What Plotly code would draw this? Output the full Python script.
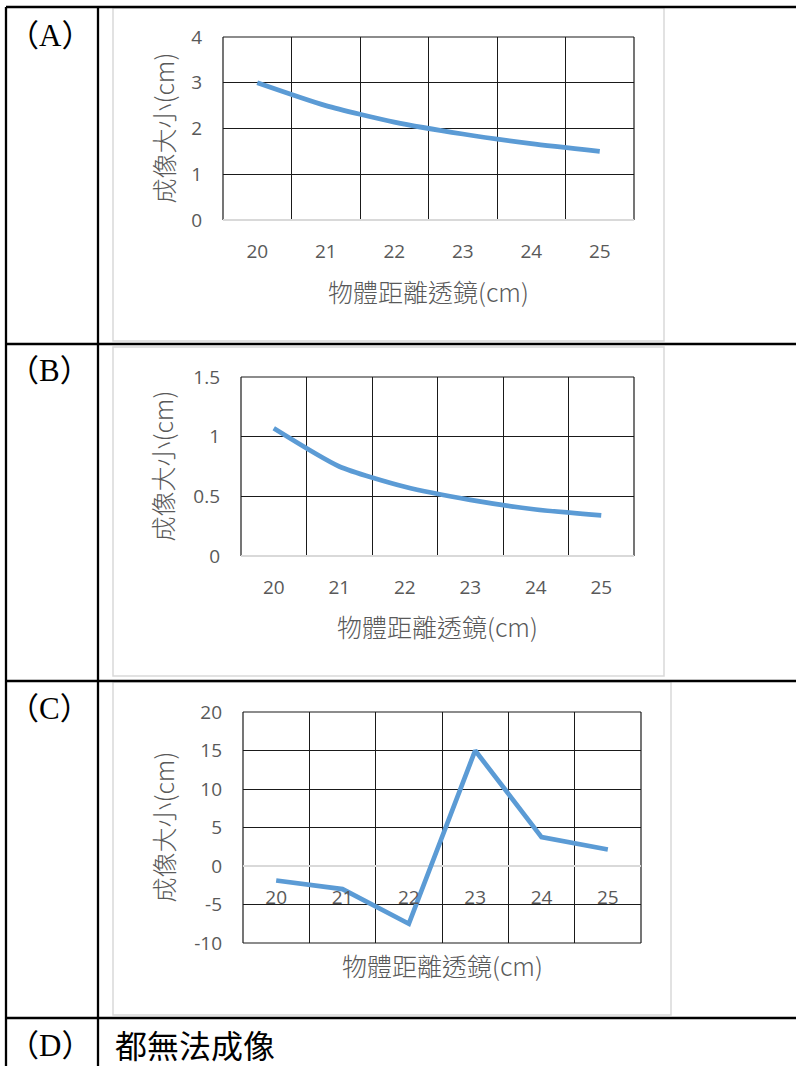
import plotly.graph_objects as go

W, H = 796, 1066

# ---- data ----
distance = [20, 21, 22, 23, 24, 25]
size_a = [3.0, 2.5, 2.14, 1.88, 1.67, 1.5]
size_b = [1.07, 0.75, 0.58, 0.47, 0.39, 0.34]
size_c = [-1.88, -3.0, -7.5, 15.0, 3.75, 2.14]
yticks_a = [0, 1, 2, 3, 4]
yticks_b = [0, 0.5, 1, 1.5]
yticks_c = [-10, -5, 0, 5, 10, 15, 20]
row_labels = ["（A）", "（B）", "（C）", "（D）"]
option_d_text = "都無法成像"
y_title = "成像大小(cm)"
x_title = "物體距離透鏡(cm)"


def px(x):
    return x / W


def py(y):
    return 1 - y / H


LINE_BLUE = "#5B9BD5"
GRID = "#1A1A1A"
AXIS_GRAY = "#D9D9D9"
TXT_GRAY = "#595959"
TICK_FONT = dict(family="Open Sans, Noto Sans CJK TC", size=19, color=TXT_GRAY)
TITLE_FONT = dict(family="Noto Sans CJK TC", size=25, color=TXT_GRAY, weight=300)

fig = go.Figure()

# plot areas (pixel boxes): left, right, top, bottom
areas = [
    (223, 634, 37, 220),
    (241, 634, 377, 556),
    (243, 641, 712, 943),
]
series = [(size_a, "spline"), (size_b, "spline"), (size_c, "linear")]
yticks = [yticks_a, yticks_b, yticks_c]

shapes = []
# chart boxes (drawn first, under everything)
boxes = [(113, 664, 8, 341), (113, 664, 347, 676), (113, 671, 682, 1015)]
for (l, r, t, b) in boxes:
    shapes.append(dict(type="rect", xref="paper", yref="paper",
                       x0=px(l), x1=px(r), y0=py(b), y1=py(t),
                       line=dict(color=AXIS_GRAY, width=1.5), fillcolor="white", layer="below"))

for i, ((l, r, t, b), (vals, shape), yt) in enumerate(zip(areas, series, yticks)):
    n = "" if i == 0 else str(i + 1)
    y0, y1 = yt[0], yt[-1]
    fig.add_trace(go.Scatter(
        x=distance, y=vals, mode="lines",
        line=dict(color=LINE_BLUE, width=4.7, shape=shape, smoothing=0.6),
        xaxis="x" + n, yaxis="y" + n, showlegend=False, hoverinfo="skip",
    ))
    xdom = [px(l), px(r)]
    ydom = [py(b), py(t)]
    xa = dict(
        domain=xdom, range=[19.5, 25.5],
        tickmode="array", tickvals=distance, ticktext=[str(v) for v in distance],
        showgrid=False, zeroline=False, showline=False, ticks="",
        tickfont=TICK_FONT, ticklabelstandoff=18,
        minor=dict(tickmode="array", tickvals=[19.5 + k for k in range(7)],
                   showgrid=True, gridcolor=GRID, gridwidth=1.2, ticks=""),
        fixedrange=True,
    )
    if i == 2:
        xa.update(anchor="free", position=py(b) + (py(t) - py(b)) * (0 - y0) / (y1 - y0))
    else:
        xa.update(anchor="y" + n)
    ya = dict(
        domain=ydom, range=[y0, y1], tickmode="array", tickvals=yt,
        ticktext=[("%g" % v) for v in yt],
        showgrid=True, gridcolor=GRID, gridwidth=1.2,
        zeroline=True, zerolinecolor=AXIS_GRAY, zerolinewidth=1.5,
        showline=False, ticks="", tickfont=TICK_FONT, ticklabelstandoff=20,
        anchor="x" + n, fixedrange=True,
    )
    fig.update_layout({"xaxis" + n: xa, "yaxis" + n: ya})

    # plot-area border lines (left, right, top; bottom too when 0 is not the bottom)
    xr, yr = "x" + n + " domain", "y" + n + " domain"
    edges = [(0, 0, 0, 1), (1, 0, 1, 1), (0, 1, 1, 1)]
    if y0 != 0:
        edges.append((0, 0, 1, 0))
    for (ex0, ey0, ex1, ey1) in edges:
        shapes.append(dict(type="line", xref=xr, yref=yr, x0=ex0, y0=ey0, x1=ex1, y1=ey1,
                           line=dict(color=GRID, width=1.2), layer="below"))

# table lines
TL = dict(color="black", width=2.3)
for yy in [7, 344, 681, 1018]:
    shapes.append(dict(type="line", xref="paper", yref="paper",
                       x0=px(6), x1=1, y0=py(yy), y1=py(yy), line=TL))
for xx in [6, 98]:
    shapes.append(dict(type="line", xref="paper", yref="paper",
                       x0=px(xx), x1=px(xx), y0=0, y1=py(7), line=TL))

annotations = []
# axis titles
ytitle_x = [162, 162, 162]
for (l, r, t, b), xx in zip(areas, ytitle_x):
    annotations.append(dict(text=y_title, xref="paper", yref="paper",
                            x=px(xx), y=py((t + b) / 2), textangle=-90,
                            showarrow=False, xanchor="center", yanchor="middle",
                            font=TITLE_FONT))
xtitle_y = [291, 626, 965]
for (l, r, t, b), yy in zip(areas, xtitle_y):
    annotations.append(dict(text=x_title, xref="paper", yref="paper",
                            x=px((l + r) / 2), y=py(yy),
                            showarrow=False, xanchor="center", yanchor="middle",
                            font=TITLE_FONT))

# row labels
label_y = [35, 371, 708, 1045]
for lab, yy in zip(row_labels, label_y):
    annotations.append(dict(text=lab, xref="paper", yref="paper",
                            x=px(50), y=py(yy), showarrow=False,
                            xanchor="center", yanchor="middle",
                            font=dict(family="Liberation Serif, Noto Sans CJK TC", size=31, color="black")))
annotations.append(dict(text=option_d_text, xref="paper", yref="paper",
                        x=px(113), y=py(1044), showarrow=False,
                        xanchor="left", yanchor="middle",
                        font=dict(family="Noto Sans CJK TC", size=32, color="black")))

fig.update_layout(
    width=W, height=H, margin=dict(l=0, r=0, t=0, b=0),
    paper_bgcolor="white", plot_bgcolor="rgba(0,0,0,0)",
    template="none", showlegend=False,
    shapes=shapes, annotations=annotations,
)

fig.write_html("out.html", config={"displayModeBar": False},
               post_script="document.body.style.margin='0';")
